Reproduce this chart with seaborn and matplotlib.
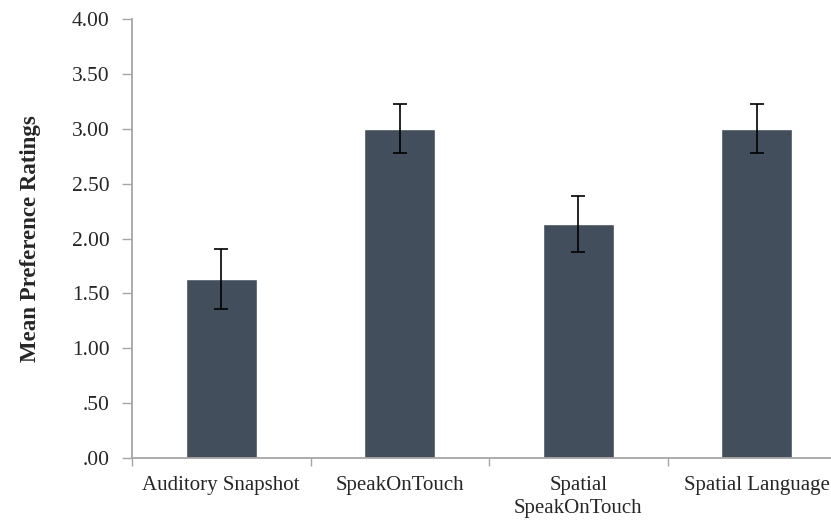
import numpy as np
import pandas as pd
import matplotlib
matplotlib.use('Agg')
import matplotlib.pyplot as plt
import seaborn as sns

## Data
conditions = ['Auditory Snapshot', 'SpeakOnTouch', 'Spatial\nSpeakOnTouch', 'Spatial Language']
means      = [1.63, 3.00, 2.13, 3.00]
errors     = [0.27, 0.225, 0.255, 0.225]
yticks     = [0.0, 0.5, 1.0, 1.5, 2.0, 2.5, 3.0, 3.5, 4.0]
ytick_lbls = ['.00', '.50', '1.00', '1.50', '2.00', '2.50', '3.00', '3.50', '4.00']

bar_color  = '#434e5c'
axis_color = '#a6a6a6'

sns.set_style('white')
plt.rcParams['font.family'] = ['Liberation Serif', 'DejaVu Serif']

df = pd.DataFrame({'condition': conditions, 'mean': means})

## Figure
W, H = 831, 523
fig = plt.figure(figsize=(W/100, H/100), dpi=100)
ax = fig.add_axes([132/W, (H-458)/H, (846-132)/W, (458-19)/H])

sns.barplot(data=df, x='condition', y='mean', color=bar_color, width=0.4,
            errorbar=None, saturation=1, ax=ax)
ax.errorbar(np.arange(len(conditions)), means, yerr=errors, fmt='none',
            ecolor='black', elinewidth=1.2, capsize=5, capthick=1.2)

## Axes styling
ax.set_xlim(-0.5, len(conditions) - 0.5)
ax.set_ylim(0, 4)
ax.set_yticks(yticks)
ax.set_yticklabels(ytick_lbls, fontsize=15.5)
ax.tick_params(axis='y', direction='out', length=7, width=1, color=axis_color,
               pad=9, left=True)

# category boundaries carry the x ticks, labels sit in between
ax.set_xticks(np.arange(-0.5, len(conditions)), minor=False)
ax.set_xticklabels([])
ax.set_xticks(np.arange(len(conditions)), minor=True)
ax.set_xticklabels(conditions, minor=True, fontsize=15, linespacing=1.3)
ax.tick_params(axis='x', which='major', direction='out', length=6, width=1,
               color=axis_color, bottom=True)
ax.tick_params(axis='x', which='minor', length=0, pad=13)

for side in ['top', 'right']:
    ax.spines[side].set_visible(False)
for side in ['left', 'bottom']:
    ax.spines[side].set_color(axis_color)
    ax.spines[side].set_linewidth(1.3)

ax.set_xlabel('')
ax.set_ylabel('Mean Preference Ratings', fontsize=16.5, fontweight='bold', labelpad=22)
ax.grid(False)

fig.savefig('out.png', dpi=100)
